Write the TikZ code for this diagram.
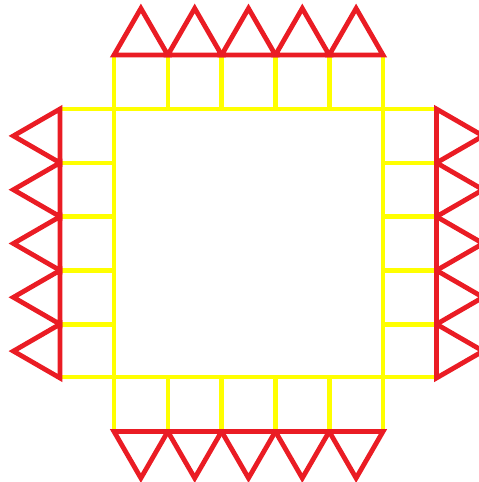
\documentclass[tikz,border=0pt]{standalone}
\definecolor{tri}{RGB}{234,28,36}
\definecolor{grid}{RGB}{255,255,0}
\tikzset{
  gridline/.style={draw=grid, line width=4.6pt},
  triline/.style={draw=tri, line width=4.8pt, line join=miter},
}
\begin{document}
\begin{tikzpicture}[x=1pt,y=-1pt]
\useasboundingbox (0,0) rectangle (479,482);
\clip (0,0) rectangle (479,482);
\def\xa{114}\def\xb{383}\def\ya{109}\def\yb{377}
\def\s{53.8}\def\h{46.6}
% yellow grid
\draw[gridline] (60,\ya) -- (436.5,\ya);
\draw[gridline] (60,\yb) -- (436.5,\yb);
\draw[gridline] (\xa,55) -- (\xa,431.5);
\draw[gridline] (\xb,55) -- (\xb,431.5);
\foreach \k in {1,...,4}{
  \draw[gridline] ({\xa+\k*\s},55) -- ({\xa+\k*\s},\ya);
  \draw[gridline] ({\xa+\k*\s},\yb) -- ({\xa+\k*\s},431.5);
  \draw[gridline] (60,{\ya+\k*\s}) -- (\xa,{\ya+\k*\s});
  \draw[gridline] (\xb,{\ya+\k*\s}) -- (436.5,{\ya+\k*\s});
}
% red triangles
\foreach \k in {0,...,4}{
  \draw[triline] ({\xa+\k*\s},55) -- ({\xa+(\k+0.5)*\s},{55-\h}) -- ({\xa+(\k+1)*\s},55) -- cycle;
  \draw[triline] ({\xa+\k*\s},431.5) -- ({\xa+(\k+0.5)*\s},{431.5+\h}) -- ({\xa+(\k+1)*\s},431.5) -- cycle;
  \draw[triline] (60,{\ya+\k*\s}) -- ({60-\h},{\ya+(\k+0.5)*\s}) -- (60,{\ya+(\k+1)*\s}) -- cycle;
  \draw[triline] (436.5,{\ya+\k*\s}) -- ({436.5+\h},{\ya+(\k+0.5)*\s}) -- (436.5,{\ya+(\k+1)*\s}) -- cycle;
}
\end{tikzpicture}
\end{document}
